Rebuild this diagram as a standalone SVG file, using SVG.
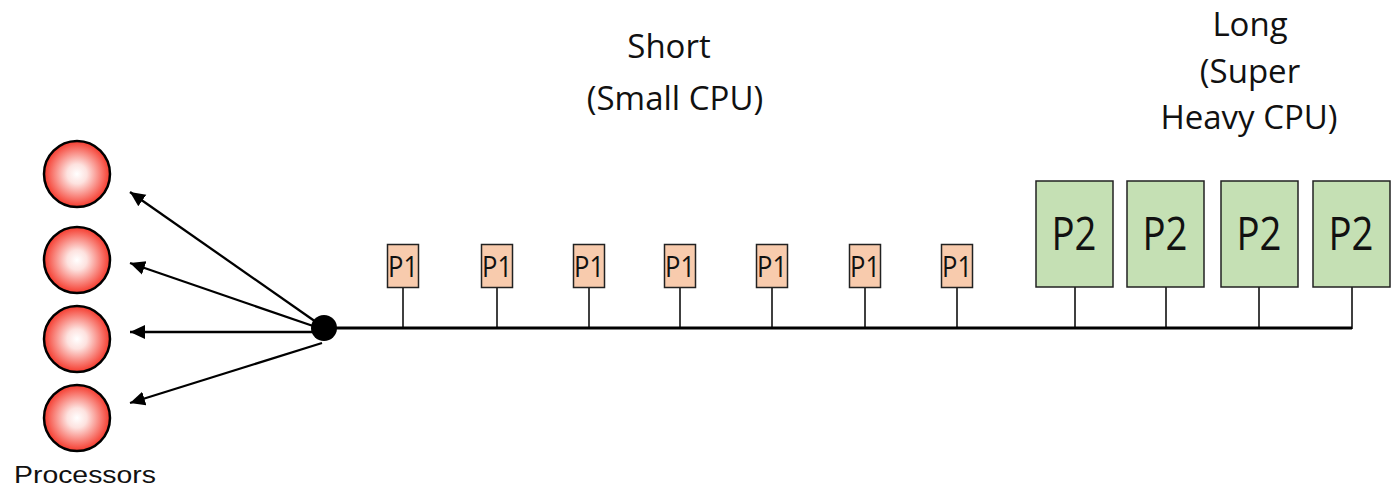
<svg xmlns="http://www.w3.org/2000/svg" width="1393" height="488" viewBox="0 0 1393 488">
<style>
.proc{stroke:#000;stroke-width:2.5;fill:url(#rg)}
.p1{fill:#f8cbad;stroke:#222;stroke-width:1.5}
.p2{fill:#c5e0b4;stroke:#222;stroke-width:1.5}
.stem{stroke:#000;stroke-width:1.5;fill:none}
.bus{stroke:#000;stroke-width:3;fill:none}
.arr{stroke:#000;stroke-width:2.3;fill:none;marker-end:url(#ah)}
.lbl{font-family:"Open Sans","Noto Sans",sans-serif;fill:#111;text-anchor:middle}
.t1{font-size:30px}
.t2{font-size:46px}
.hd{font-size:33px}
</style>
<defs>
<radialGradient id="rg" cx="50%" cy="50%" r="50%">
<stop offset="0" stop-color="#ffffff"/>
<stop offset="0.3" stop-color="#fde2df"/>
<stop offset="1" stop-color="#f53a2d"/>
</radialGradient>
<marker id="ah" markerUnits="userSpaceOnUse" markerWidth="16" markerHeight="16" viewBox="0 0 16 16" refX="15" refY="8" orient="auto">
<path d="M0,1 L15,8 L0,15 Z" fill="#000"/>
</marker>
</defs>
<g id="connectors">
<line class="bus" x1="324" y1="328" x2="1352" y2="328"/>
<line class="stem" x1="403" y1="287" x2="403" y2="328"/>
<line class="stem" x1="497" y1="287" x2="497" y2="328"/>
<line class="stem" x1="589" y1="287" x2="589" y2="328"/>
<line class="stem" x1="680" y1="287" x2="680" y2="328"/>
<line class="stem" x1="772" y1="287" x2="772" y2="328"/>
<line class="stem" x1="865" y1="287" x2="865" y2="328"/>
<line class="stem" x1="957" y1="287" x2="957" y2="328"/>
<line class="stem" x1="1075" y1="287" x2="1075" y2="328"/>
<line class="stem" x1="1166" y1="287" x2="1166" y2="328"/>
<line class="stem" x1="1259" y1="287" x2="1259" y2="328"/>
<line class="stem" x1="1352" y1="287" x2="1352" y2="329"/>
<line class="arr" x1="316" y1="322" x2="130" y2="192"/>
<line class="arr" x1="316" y1="327" x2="130" y2="263"/>
<line class="arr" x1="316" y1="332" x2="130" y2="332"/>
<line class="arr" x1="322" y1="343" x2="130" y2="403"/>
</g>
<g id="hub"><circle cx="324" cy="328" r="13" fill="#000"/></g>
<g id="proc1"><circle class="proc" cx="77" cy="174" r="33"/></g>
<g id="proc2"><circle class="proc" cx="77" cy="260" r="33"/></g>
<g id="proc3"><circle class="proc" cx="77" cy="339" r="33"/></g>
<g id="proc4"><circle class="proc" cx="77" cy="418" r="33"/></g>
<g id="processors-label"><text x="85" y="483" font-family="'Liberation Sans',Arial,sans-serif" font-size="24" fill="#111" text-anchor="middle" textLength="142" lengthAdjust="spacingAndGlyphs">Processors</text></g>
<g id="p1-1"><rect class="p1" x="387.5" y="244.5" width="31" height="43"/><text class="lbl t1" x="403" y="277" textLength="30" lengthAdjust="spacingAndGlyphs">P1</text></g>
<g id="p1-2"><rect class="p1" x="481.5" y="244.5" width="31" height="43"/><text class="lbl t1" x="497" y="277" textLength="30" lengthAdjust="spacingAndGlyphs">P1</text></g>
<g id="p1-3"><rect class="p1" x="573.5" y="244.5" width="31" height="43"/><text class="lbl t1" x="589" y="277" textLength="30" lengthAdjust="spacingAndGlyphs">P1</text></g>
<g id="p1-4"><rect class="p1" x="664.5" y="244.5" width="31" height="43"/><text class="lbl t1" x="680" y="277" textLength="30" lengthAdjust="spacingAndGlyphs">P1</text></g>
<g id="p1-5"><rect class="p1" x="756.5" y="244.5" width="31" height="43"/><text class="lbl t1" x="772" y="277" textLength="30" lengthAdjust="spacingAndGlyphs">P1</text></g>
<g id="p1-6"><rect class="p1" x="849.5" y="244.5" width="31" height="43"/><text class="lbl t1" x="865" y="277" textLength="30" lengthAdjust="spacingAndGlyphs">P1</text></g>
<g id="p1-7"><rect class="p1" x="941.5" y="244.5" width="31" height="43"/><text class="lbl t1" x="957" y="277" textLength="30" lengthAdjust="spacingAndGlyphs">P1</text></g>
<g id="p2-1"><rect class="p2" x="1036" y="181" width="77" height="106"/><text class="lbl t2" x="1074" y="250" textLength="45" lengthAdjust="spacingAndGlyphs">P2</text></g>
<g id="p2-2"><rect class="p2" x="1127" y="181" width="77" height="106"/><text class="lbl t2" x="1165" y="250" textLength="45" lengthAdjust="spacingAndGlyphs">P2</text></g>
<g id="p2-3"><rect class="p2" x="1221" y="181" width="77" height="106"/><text class="lbl t2" x="1259" y="250" textLength="45" lengthAdjust="spacingAndGlyphs">P2</text></g>
<g id="p2-4"><rect class="p2" x="1313" y="181" width="77" height="106"/><text class="lbl t2" x="1351" y="250" textLength="45" lengthAdjust="spacingAndGlyphs">P2</text></g>
<g id="short-label"><text class="lbl hd" x="669" y="58">Short</text><text class="lbl hd" x="675" y="110">(Small CPU)</text></g>
<g id="long-label"><text class="lbl hd" x="1250" y="36">Long</text><text class="lbl hd" x="1250" y="83">(Super</text><text class="lbl hd" x="1249" y="129">Heavy CPU)</text></g>
</svg>
